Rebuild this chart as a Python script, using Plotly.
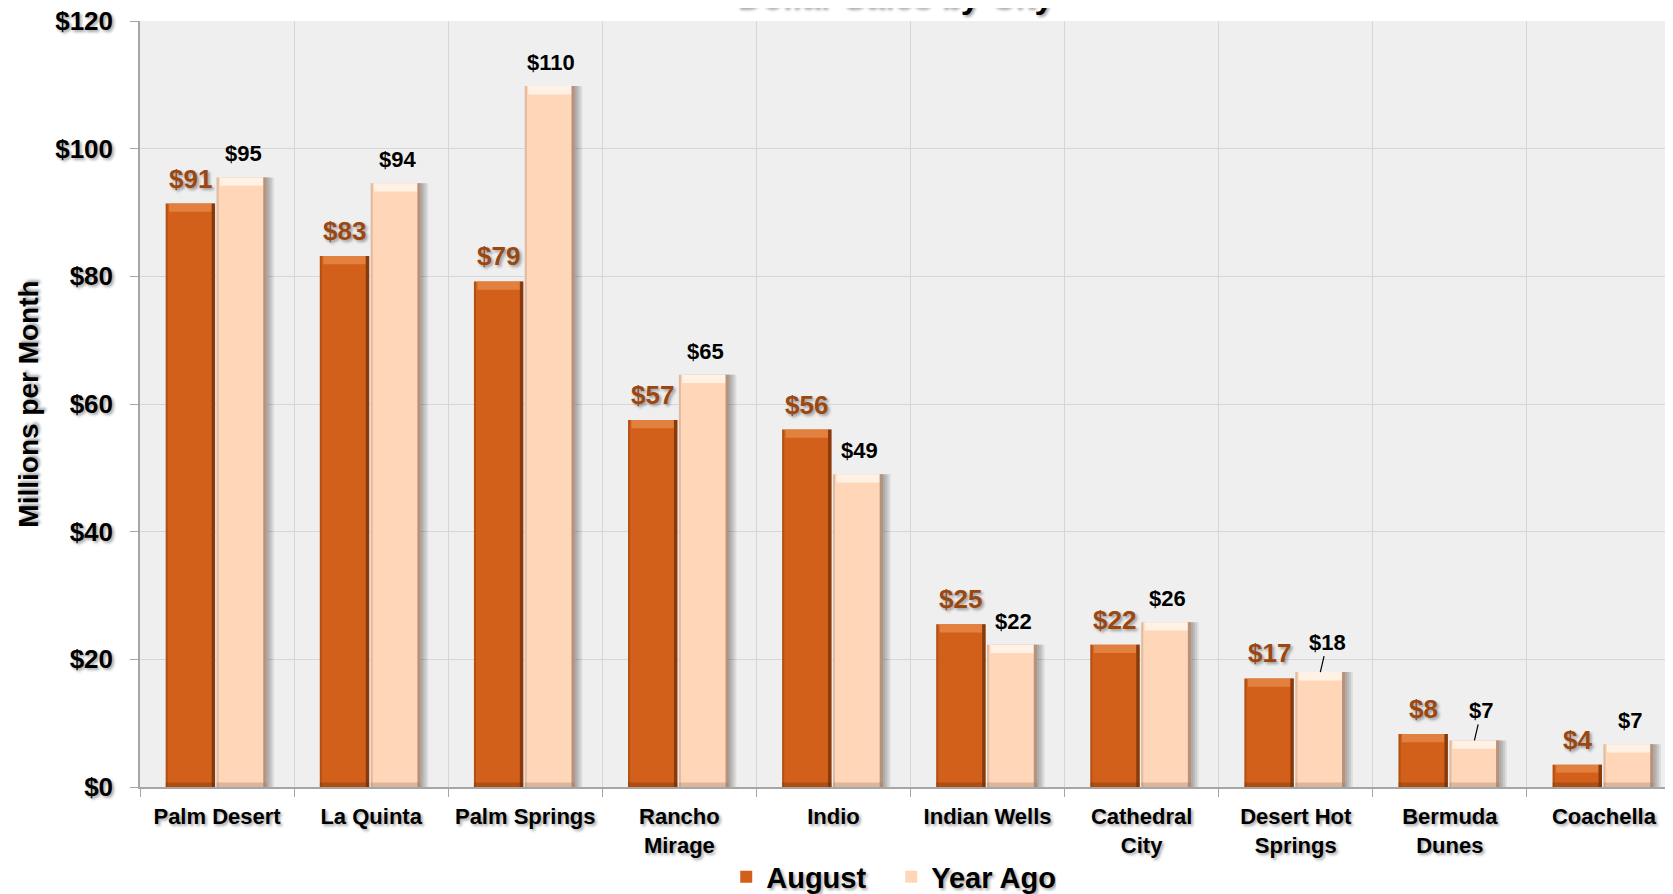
import plotly.graph_objects as go

cities = ["Palm Desert", "La Quinta", "Palm Springs", "Rancho<br>Mirage", "Indio",
          "Indian Wells", "Cathedral<br>City", "Desert Hot<br>Springs", "Bermuda<br>Dunes", "Coachella"]
august = [91.4, 83.2, 79.2, 57.5, 56.0, 25.5, 22.3, 17.0, 8.3, 3.5]
year_ago = [95.5, 94.6, 109.8, 64.6, 49.0, 22.3, 25.8, 18.0, 7.3, 6.7]
august_labels = ["$91", "$83", "$79", "$57", "$56", "$25", "$22", "$17", "$8", "$4"]
year_ago_labels = ["$95", "$94", "$110", "$65", "$49", "$22", "$26", "$18", "$7", "$7"]
leader_line = [False, False, False, False, False, False, False, True, True, False]
y_ticks = [0, 20, 40, 60, 80, 100, 120]
y_tick_text = ["$0", "$20", "$40", "$60", "$80", "$100", "$120"]

FONT = "Liberation Sans"
AUG_COLOR = "#D2601A"
AUG_LIGHT = "#E2813F"
AUG_DARK = "#6E2E08"
YA_COLOR = "#FFD6B8"
YA_LIGHT = "#FFF1E4"
YA_DARK = "#9C7C68"
LABEL_BROWN = "#9A4712"
SHADOW = "2px 2px 3px rgba(0,0,0,0.35)"

AUG_OFF, AUG_W = -0.333, 0.32
YA_OFF, YA_W = -0.003, 0.325
TOP_BEVEL = 1.3      # height of the lighter top facet (data units)
BOT_BEVEL = 0.7
EDGE_W = 0.022       # width of the darker right facet (category units)

fig = go.Figure()


def no_hover(**kw):
    return go.Bar(showlegend=False, hoverinfo="skip", **kw)


def add_series(name, vals, off, w, col, light, dark, shadow):
    if shadow:
        for k in range(4):
            fig.add_trace(no_hover(x=cities, y=vals, offset=off + 0.012 * (k + 1), width=w,
                                   marker=dict(color="rgba(0,0,0,0.08)", line=dict(width=0))))
    fig.add_trace(go.Bar(name=name, x=cities, y=vals, offset=off, width=w,
                         marker=dict(color=col, line=dict(width=0))))
    top_h = [min(TOP_BEVEL, v * 0.35) for v in vals]
    fig.add_trace(no_hover(x=cities, y=top_h, base=[v - h for v, h in zip(vals, top_h)],
                           offset=off + EDGE_W, width=w - 2 * EDGE_W,
                           marker=dict(color=light, line=dict(width=0))))
    fig.add_trace(no_hover(x=cities, y=[BOT_BEVEL] * len(vals), offset=off, width=w,
                           marker=dict(color=dark, opacity=0.35, line=dict(width=0))))
    fig.add_trace(no_hover(x=cities, y=vals, offset=off + w - EDGE_W, width=EDGE_W,
                           marker=dict(color=dark, opacity=0.75, line=dict(width=0))))
    fig.add_trace(no_hover(x=cities, y=vals, offset=off, width=EDGE_W * 0.6,
                           marker=dict(color=dark, opacity=0.3, line=dict(width=0))))


add_series("August", august, AUG_OFF, AUG_W, AUG_COLOR, AUG_LIGHT, AUG_DARK, False)
add_series("Year Ago", year_ago, YA_OFF, YA_W, YA_COLOR, YA_LIGHT, YA_DARK, True)

annotations = []
for i in range(len(cities)):
    annotations.append(dict(x=i + AUG_OFF + AUG_W / 2, y=august[i], xref="x", yref="y",
                            text=august_labels[i], showarrow=False, yanchor="bottom", yshift=8,
                            font=dict(family=FONT, size=26, color=LABEL_BROWN, weight="bold",
                                      shadow=SHADOW)))
    if leader_line[i]:
        annotations.append(dict(x=i + YA_OFF + YA_W / 2, y=year_ago[i], xref="x", yref="y",
                                text=year_ago_labels[i], showarrow=True, arrowhead=0,
                                arrowwidth=1.2, arrowcolor="black", ax=7, ay=-30,
                                font=dict(family=FONT, size=22, color="black", weight="bold")))
    else:
        annotations.append(dict(x=i + YA_OFF + YA_W / 2 + 0.01, y=year_ago[i], xref="x", yref="y",
                                text=year_ago_labels[i], showarrow=False, yanchor="bottom",
                                yshift=9,
                                font=dict(family=FONT, size=22, color="black", weight="bold")))

annotations.append(dict(x=0.49, y=1, xref="paper", yref="paper", yanchor="bottom", yshift=4,
                        text="Dollar Sales by City", showarrow=False,
                        font=dict(family=FONT, size=34, color="black", weight="bold",
                                  shadow=SHADOW)))

fig.update_layout(
    width=1673, height=894,
    margin=dict(l=132, r=0, t=13, b=115, autoexpand=False),
    paper_bgcolor="white",
    plot_bgcolor="#EFEFEF",
    barmode="overlay",
    font=dict(family=FONT, color="black"),
    annotations=annotations,
    legend=dict(orientation="h", x=0.4875, xanchor="center", y=-0.1175, yanchor="middle",
                font=dict(family=FONT, size=29, color="black", weight="bold", shadow=SHADOW),
                itemwidth=30, entrywidth=120, traceorder="normal"),
    showlegend=True,
)
fig.update_xaxes(
    type="category", tickson="boundaries", range=[-0.5, 9.5], automargin=False,
    showgrid=True, gridcolor="#D6D6D6", gridwidth=1,
    showline=True, linecolor="#A6A6A6", linewidth=1.5,
    ticks="outside", ticklen=8, tickcolor="#A6A6A6", ticklabelstandoff=9,
    tickfont=dict(family=FONT, size=22, color="black", weight="bold", shadow=SHADOW),
)
fig.update_yaxes(
    range=[0, 120], tickvals=y_ticks, ticktext=y_tick_text, automargin=False,
    ticklabeloverflow="allow",
    showgrid=True, gridcolor="#D6D6D6", gridwidth=1,
    showline=True, linecolor="#A6A6A6", linewidth=1.5,
    ticks="outside", ticklen=8, tickcolor="#A6A6A6", ticklabelstandoff=12,
    tickfont=dict(family=FONT, size=26, color="black", weight="bold", shadow=SHADOW),
    title=dict(text="Millions per Month", standoff=8,
               font=dict(family=FONT, size=28, color="black", weight="bold",
                         shadow=SHADOW)),
    zeroline=False,
)

fig.write_html("out.html")
